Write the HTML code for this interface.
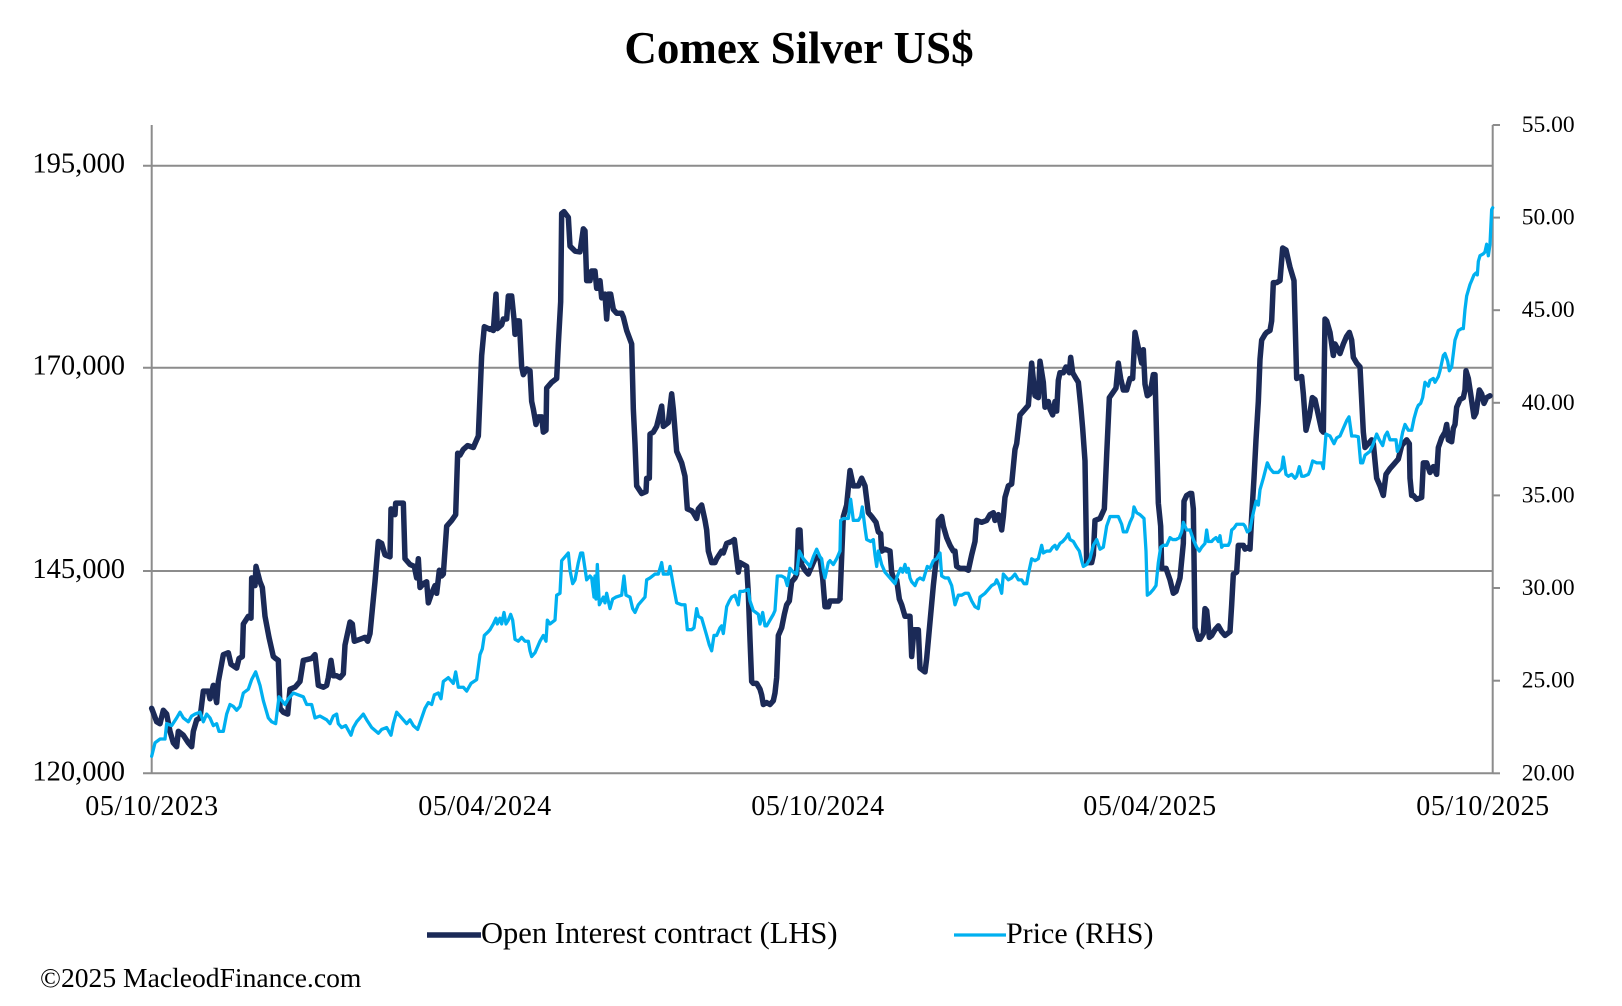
<!DOCTYPE html>
<html>
<head>
<meta charset="utf-8">
<style>
html,body{margin:0;padding:0;background:#fff;}
body{width:1622px;height:1006px;overflow:hidden;}
svg{display:block;}
text{font-family:"Liberation Serif",serif;fill:#000;}
.d{fill:none;stroke:#1b2a57;stroke-width:5.5;stroke-linejoin:round;stroke-linecap:round;vector-effect:non-scaling-stroke;}
.l{fill:none;stroke:#00b0f0;stroke-width:3.3;stroke-linejoin:round;stroke-linecap:round;vector-effect:non-scaling-stroke;}
</style>
</head>
<body>
<svg width="1622" height="1006" viewBox="0 0 1622 1006" xmlns="http://www.w3.org/2000/svg">
<rect width="1622" height="1006" fill="#fff"/>
<text x="799" y="63" text-anchor="middle" font-size="45" font-weight="bold">Comex Silver US$</text>

<!-- gridlines -->
<g stroke="#8c8c8c" stroke-width="2" fill="none">
<line x1="143" y1="165.7" x2="1492.7" y2="165.7"/>
<line x1="143" y1="367.7" x2="1492.7" y2="367.7"/>
<line x1="143" y1="571" x2="1492.7" y2="571"/>
<line x1="143" y1="773.3" x2="1492.7" y2="773.3"/>
<line x1="151.7" y1="125" x2="151.7" y2="774"/>
<line x1="1492.7" y1="125" x2="1492.7" y2="774"/>
<line x1="1492.7" y1="125" x2="1500" y2="125"/>
<line x1="1492.7" y1="217.6" x2="1500" y2="217.6"/>
<line x1="1492.7" y1="310.2" x2="1500" y2="310.2"/>
<line x1="1492.7" y1="402.8" x2="1500" y2="402.8"/>
<line x1="1492.7" y1="495.4" x2="1500" y2="495.4"/>
<line x1="1492.7" y1="588" x2="1500" y2="588"/>
<line x1="1492.7" y1="680.7" x2="1500" y2="680.7"/>
<line x1="1492.7" y1="773.3" x2="1500" y2="773.3"/>
</g>

<!-- left labels -->
<g font-size="28.5" text-anchor="end">
<text x="125" y="172.7">195,000</text>
<text x="125" y="374.7">170,000</text>
<text x="125" y="578">145,000</text>
<text x="125" y="780.3">120,000</text>
</g>
<!-- right labels -->
<g font-size="23.5">
<text x="1521.7" y="132">55.00</text>
<text x="1521.7" y="224.6">50.00</text>
<text x="1521.7" y="317.2">45.00</text>
<text x="1521.7" y="409.8">40.00</text>
<text x="1521.7" y="502.4">35.00</text>
<text x="1521.7" y="595">30.00</text>
<text x="1521.7" y="687.7">25.00</text>
<text x="1521.7" y="780.3">20.00</text>
</g>
<!-- x labels -->
<g font-size="28" text-anchor="middle" letter-spacing="0.6">
<text x="152" y="815">05/10/2023</text>
<text x="485" y="815">05/04/2024</text>
<text x="818" y="815">05/10/2024</text>
<text x="1150" y="815">05/04/2025</text>
<text x="1483" y="815">05/10/2025</text>
</g>

<!-- Dark series (OI) -->
<g transform="translate(145,179) scale(0.33333,0.38358)">
<polyline class="d" points="20,1380 35,1415 45,1420 55,1385 65,1395 75,1440 85,1470 95,1480 100,1440 115,1450 130,1470 140,1480 145,1440 155,1410 165,1405 175,1335 190,1335 195,1355 205,1320 215,1365 220,1310 235,1240 250,1235 258,1265 275,1275 282,1250 292,1245 295,1160 310,1140 318,1145 320,1040 330,1060 333,1010 345,1050 352,1065 360,1140 372,1195 385,1245 392,1250 400,1255 405,1380 415,1390 428,1395 435,1330 450,1325 465,1310 475,1255 500,1250 510,1240 520,1320 535,1325 545,1320 550,1300 558,1255 565,1295 575,1295 585,1300 595,1290 600,1215 615,1155 622,1160 628,1205 645,1200 660,1195 668,1205 675,1185 690,1050 700,945 710,950 720,980 735,985 738,860 750,875 752,845 775,845 780,990 795,1005 808,1010 815,1040 820,990 825,1065 835,1055 845,1050 850,1105 860,1080 870,1060 875,1080 883,1020 890,1035 895,1030 905,905 920,890 932,875 938,715 945,720 955,705 968,695 985,700 1000,670 1010,460 1018,385 1035,392"/>
</g>
<g transform="translate(490,179) scale(0.33333,0.38358)">
<polyline class="d" points="0,390 10,395 18,300 22,390 35,380 40,365 50,365 55,305 65,305 72,365 75,405 80,370 88,370 95,490 100,510 110,495 120,500 125,580 130,600 138,640 145,620 155,620 160,660 168,655 170,545 185,530 200,520 205,430 212,320 215,90 222,85 235,100 240,175 255,188 270,190 280,130 285,135 290,265 300,265 305,240 315,240 320,285 330,265 335,310 345,300 350,365 355,300 362,300 370,340 380,350 395,350 400,360 410,395 425,430 430,600 435,690 440,800 455,820 468,815 470,780 478,780 480,665 490,660 500,645 515,592 520,645 535,635 545,560 550,600 560,710 575,740 585,775 592,860 605,865 610,870 620,885 625,860 635,850 645,890 650,915 655,970 665,1000 675,1000 680,990 695,970 700,975 710,950 725,945 733,940 740,990 745,1025 750,1000 760,1005 770,1010 775,1080 780,1200 785,1310 790,1315 800,1315 810,1330 815,1345 820,1370 830,1365 840,1370 850,1360 855,1340 860,1300 865,1190 875,1170 883,1135 890,1110 898,1100 905,1050 915,1040 920,1030 925,915 930,915 935,1005 945,1020 955,1030 965,1010 975,990 980,985 990,990 998,1040 1005,1115 1015,1115 1020,1100 1035,1100 1045,1100 1050,1095"/>
</g>
<g transform="translate(840,179) scale(0.33333,0.38358)">
<polyline class="d" points="0,1095 5,985 10,880 20,850 30,760 40,800 55,800 65,780 75,800 85,870 95,880 108,895 115,920 122,925 125,970 135,965 150,970 155,1025 160,1040 170,1045 178,1095 185,1110 195,1140 210,1140 215,1245 222,1175 235,1175 240,1275 255,1285 260,1250 270,1155 280,1060 290,980 295,890 305,880 310,905 320,935 330,955 340,970 345,970 350,1010 360,1015 375,1015 385,1020 395,980 405,945 410,890 425,895 440,890 450,875 460,870 465,890 475,875 485,915 490,880 495,830 505,800 515,795 525,705 530,690 540,615 555,600 565,590 575,480 585,565 595,570 600,475 610,530 615,595 625,580 630,600 638,615 645,580 650,605 655,525 660,505 670,505 678,490 688,505 692,465 698,505 708,520 715,530 722,590 728,650 735,735 740,1000 748,1000 755,1000 760,980 765,890 780,885 793,860 800,720 808,570 820,555 828,545 835,480 842,520 850,550 860,550 870,520 878,520 885,400 895,440 905,480 910,445 915,535 922,565 930,560 940,510 945,510 950,680 955,845 962,905 965,1015 978,1015 990,1045 1000,1080 1008,1075 1020,1040 1030,950 1032,840 1040,825 1050,820"/>
</g>
<g transform="translate(1150,179) scale(0.33333,0.38358)">
<polyline class="d" points="120,820 125,820 130,860 135,1170 145,1200 150,1200 160,1185 165,1120 170,1125 178,1195 185,1190 195,1175 205,1165 215,1180 225,1190 240,1180 245,1110 250,1030 260,1025 265,955 280,955 285,965 295,960 300,965 305,880 312,780 318,680 325,580 330,470 335,420 345,405 350,400 360,395 365,370 370,270 380,270 390,265 398,180 408,185 420,230 432,265 440,520 455,515 460,560 468,655 478,620 487,570 495,575 505,615 515,655 520,660 525,365 530,370 540,400 550,460 555,430 570,455 580,430 590,410 598,400 605,420 610,465 620,480 630,490 640,660 645,700 655,690 665,680 670,690 680,780 690,800 700,825 705,790 708,770 720,755 730,745 745,730 755,695 770,680 778,690 780,780 785,825 790,825 800,835 815,830 820,740 830,740 840,765 850,750 860,770 865,700 875,675 885,660 890,640 895,680 905,685 910,650 915,640 920,595 930,575 940,570 945,550 948,500 955,520 962,560 972,620 978,610 988,550 995,560 1002,585 1010,570 1020,565"/>
</g>

<!-- Light series (Price) -->
<g transform="translate(145,179) scale(0.33333,0.38358)">
<polyline class="l" points="20,1505 30,1470 45,1460 60,1460 65,1420 80,1425 95,1405 105,1390 115,1405 130,1415 140,1400 150,1395 165,1390 175,1415 185,1395 195,1405 205,1425 215,1420 222,1440 235,1440 245,1395 255,1370 265,1375 275,1385 285,1375 295,1340 310,1330 320,1305 332,1285 345,1320 355,1360 370,1405 380,1415 392,1420 402,1350 420,1370 430,1355 445,1340 460,1345 475,1350 485,1370 500,1370 510,1405 525,1400 545,1410 555,1420 565,1400 575,1395 580,1420 590,1430 602,1425 618,1450 625,1430 635,1415 645,1405 655,1395 665,1410 680,1430 700,1445 710,1435 725,1430 738,1450 745,1420 755,1390 770,1405 785,1420 795,1410 805,1425 818,1435 830,1405 840,1380 850,1365 860,1370 868,1345 880,1340 888,1355 895,1310 910,1300 925,1315 932,1285 940,1325 955,1325 965,1335 978,1315 995,1305 1005,1240 1012,1225 1018,1190 1030,1180 1035,1175"/>
</g>
<g transform="translate(490,179) scale(0.33333,0.38358)">
<polyline class="l" points="0,1175 10,1160 18,1145 22,1160 30,1145 35,1160 42,1130 48,1160 55,1150 62,1135 68,1150 75,1200 85,1205 95,1195 105,1205 115,1205 120,1230 125,1245 135,1235 150,1205 160,1190 168,1205 172,1150 180,1160 195,1150 200,1085 210,1080 215,995 225,985 235,975 240,1020 248,1055 255,1045 265,1000 272,975 278,975 290,1045 300,1035 305,1040 312,1090 315,1035 318,1095 322,1005 328,1110 340,1090 345,1105 350,1080 355,1100 360,1120 368,1095 378,1090 395,1085 402,1035 408,1085 420,1090 428,1120 435,1130 445,1110 455,1100 465,1090 470,1045 480,1040 495,1030 505,1030 515,1000 520,1030 535,1030 540,1010 545,1035 550,1060 560,1105 575,1110 585,1110 592,1175 605,1175 612,1170 620,1120 625,1140 635,1145 650,1190 658,1215 665,1230 672,1190 680,1190 690,1170 695,1165 700,1185 710,1115 718,1100 725,1090 735,1085 745,1110 750,1075 760,1075 775,1070 780,1100 790,1125 805,1135 810,1160 818,1130 825,1165 830,1165 840,1150 850,1135 855,1125 862,1035 875,1035 885,1040 892,1060 900,1015 910,1025 920,1030 928,970 940,990 950,1000 960,1010 970,985 980,965 990,985 995,990 1000,1020 1005,1040 1015,1000 1020,995 1030,1005 1040,990 1050,970"/>
</g>
<g transform="translate(840,179) scale(0.33333,0.38358)">
<polyline class="l" points="0,970 2,890 10,885 25,885 32,835 40,890 55,890 62,880 67,855 75,910 80,940 92,945 100,940 105,980 110,1010 115,970 125,1005 135,1025 150,1040 160,1050 165,1055 172,1035 182,1015 188,1025 195,1005 200,1025 205,1015 210,1040 215,1050 225,1060 232,1045 240,1040 250,1045 255,1030 262,1010 270,1015 280,995 290,990 300,975 305,1035 315,1040 325,1040 335,1060 345,1110 355,1085 365,1085 375,1080 385,1080 395,1100 405,1115 415,1120 420,1090 435,1080 445,1070 455,1060 465,1055 470,1045 478,1060 485,1080 490,1030 500,1040 505,1045 515,1040 525,1030 535,1045 545,1045 552,1055 560,1055 565,1030 575,990 585,995 595,990 605,955 610,975 620,970 630,970 638,960 645,955 650,965 660,950 668,945 678,935 685,925 690,940 700,945 710,960 718,970 725,995 730,1010 740,1005 750,990 760,955 770,940 780,965 790,960 800,905 810,880 825,880 835,880 845,900 850,920 860,920 870,895 878,880 882,855 890,870 900,875 912,885 918,970 922,1085 930,1080 940,1070 948,1060 955,1000 962,960 970,955 980,955 990,935 998,940 1008,940 1018,935 1025,920 1030,895 1040,915 1050,915"/>
</g>
<g transform="translate(1150,179) scale(0.33333,0.38358)">
<polyline class="l" points="120,915 130,940 140,960 148,970 155,960 165,950 170,915 175,945 185,945 190,940 198,935 205,945 210,930 215,960 220,955 235,955 240,945 245,915 252,910 260,900 270,900 280,900 285,905 292,920 300,915 305,890 310,870 318,840 325,850 330,810 340,780 352,740 360,755 370,765 385,765 395,755 400,725 408,770 415,775 425,770 435,780 440,775 448,750 455,775 462,775 475,770 480,760 488,735 500,740 515,740 520,755 528,665 540,670 552,690 560,675 570,670 580,650 590,630 597,620 605,670 615,670 625,672 632,740 638,740 645,720 660,710 670,690 680,665 688,680 698,695 705,670 712,660 720,680 730,680 738,680 742,710 750,695 758,660 765,640 775,655 785,655 792,625 800,600 805,590 812,585 818,570 825,530 835,540 840,525 850,520 855,530 865,515 870,500 880,460 885,455 893,475 898,500 905,490 910,455 915,420 925,395 935,390 940,390 945,340 950,305 960,275 965,265 972,250 978,245 982,250 985,215 990,200 1000,195 1005,190 1010,170 1015,200 1020,170 1025,80 1028,75"/>
</g>

<!-- legend -->
<line x1="427" y1="935" x2="481" y2="935" stroke="#1b2a57" stroke-width="5.5"/>
<text x="481" y="943" font-size="30.5">Open Interest contract (LHS)</text>
<line x1="954" y1="935" x2="1006" y2="935" stroke="#00b0f0" stroke-width="3.3"/>
<text x="1006" y="943" font-size="30">Price (RHS)</text>

<text x="40" y="987" font-size="27.6">©2025 MacleodFinance.com</text>
</svg>
</body>
</html>
